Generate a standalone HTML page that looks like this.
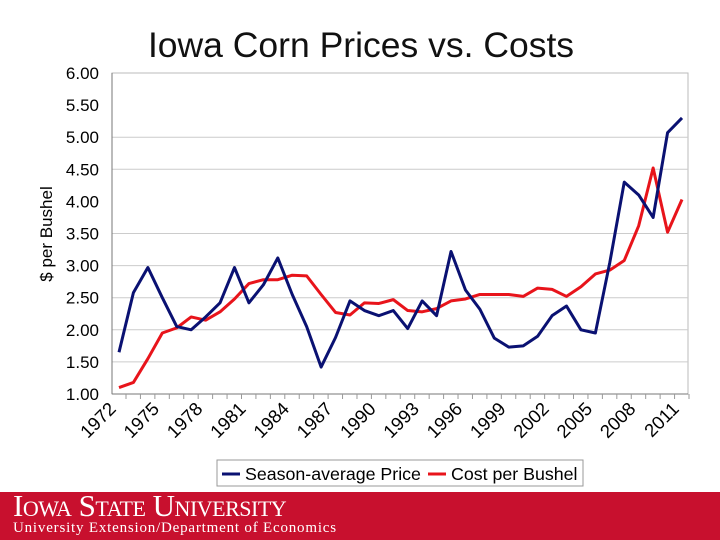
<!DOCTYPE html>
<html><head><meta charset="utf-8"><style>
body{margin:0;width:720px;height:540px;overflow:hidden;background:#fff;font-family:"Liberation Sans",sans-serif}
#wrap{position:relative;width:720px;height:540px}
#banner{position:absolute;left:0;top:492px;width:720px;height:48px;background:#c8102e}
#isu{position:absolute;left:13px;top:-4px;color:#fff;font-family:"Liberation Serif",serif;font-size:31px;font-variant:small-caps;letter-spacing:-0.5px}
#ext{position:absolute;left:13px;top:28px;color:#fff;font-family:"Liberation Serif",serif;font-size:15px;letter-spacing:0.8px}
</style></head><body><div id="wrap">
<svg id="chart" width="720" height="492" style="position:absolute;left:0;top:0">
<text x="361" y="57" text-anchor="middle" font-size="35.5" fill="#111">Iowa Corn Prices vs. Costs</text>
<text transform="translate(52,234) rotate(-90)" text-anchor="middle" font-size="17" fill="#000">$ per Bushel</text>
<g id="grid"></g><g id="axes"></g><g id="series"></g>
<g>
<rect x="217" y="460" width="366" height="26" fill="#fff" stroke="#999" stroke-width="1"/>
<line x1="222" y1="474" x2="240" y2="474" stroke="#0a1172" stroke-width="3"/>
<text x="245" y="480" font-size="17.8">Season-average Price</text>
<line x1="428" y1="474" x2="446" y2="474" stroke="#e8141b" stroke-width="3"/>
<text x="451" y="480" font-size="17.8">Cost per Bushel</text>
</g>
</svg>
<div id="banner">
<div id="isu">Iowa State University</div>
<div id="ext">University Extension/Department of Economics</div>
</div>
</div>
<script>
const years=[1972,1973,1974,1975,1976,1977,1978,1979,1980,1981,1982,1983,1984,1985,1986,1987,1988,1989,1990,1991,1992,1993,1994,1995,1996,1997,1998,1999,2000,2001,2002,2003,2004,2005,2006,2007,2008,2009,2010,2011];
const price=[1.65,2.58,2.97,2.50,2.05,2.00,2.20,2.42,2.97,2.42,2.70,3.12,2.55,2.05,1.42,1.88,2.45,2.30,2.22,2.30,2.02,2.45,2.22,3.22,2.62,2.32,1.87,1.73,1.75,1.90,2.22,2.37,2.00,1.95,3.05,4.30,4.10,3.75,5.07,5.30];
const cost=[1.10,1.18,1.55,1.95,2.03,2.20,2.15,2.28,2.48,2.72,2.78,2.78,2.85,2.84,2.55,2.27,2.23,2.42,2.41,2.47,2.30,2.28,2.33,2.45,2.48,2.55,2.55,2.55,2.52,2.65,2.63,2.52,2.67,2.87,2.93,3.08,3.62,4.52,3.52,4.03];
const yTicks=[1.00,1.50,2.00,2.50,3.00,3.50,4.00,4.50,5.00,5.50,6.00];
const NS='http://www.w3.org/2000/svg';
const L=112,R=688,T=73,B=394;
const x=i=>119+i*(682-119)/(years.length-1);
const y=v=>B-(v-1)*(B-T)/5;
function mk(tag,attrs,parent){const e=document.createElementNS(NS,tag);for(const k in attrs)e.setAttribute(k,attrs[k]);parent.appendChild(e);return e;}
const grid=document.getElementById('grid'),axes=document.getElementById('axes'),ser=document.getElementById('series');
mk('rect',{x:L,y:T,width:R-L,height:B-T,fill:'#fff',stroke:'#bbb'},grid);
yTicks.forEach(v=>{
  if(v>1&&v<6&&v!==5.5&&v!==4){const g=mk('line',{x1:L,x2:R,y1:y(v),y2:y(v),stroke:'#ccc','stroke-width':1},grid);
  
  }
  const t=mk('text',{x:99,y:y(v)+6,'text-anchor':'end','font-size':17,fill:'#000'},axes);
  t.textContent=v.toFixed(2);
  
  
});
mk('line',{x1:L,x2:L,y1:T,y2:B,stroke:'#777'},axes);
mk('line',{x1:L,x2:R,y1:B,y2:B,stroke:'#777'},axes);
years.forEach((yr,i)=>{
  mk('line',{x1:x(i)+7,x2:x(i)+7,y1:B,y2:B+5,stroke:'#999'},axes);
  if(i%3===0){const t=mk('text',{transform:`translate(${x(i)-2},${410}) rotate(-45)`,'text-anchor':'end','font-size':18.5,fill:'#000'},axes);
  t.textContent=yr;
  
  }
});
function line(vals,color,name){
  const p=mk('polyline',{points:vals.map((v,i)=>x(i)+','+y(v)).join(' '),fill:'none',stroke:color,'stroke-width':3,'stroke-linejoin':'round'},ser);
  
  
}
line(cost,'#e8141b','cost-line');
line(price,'#0a1172','price-line');
</script>
</body></html>
